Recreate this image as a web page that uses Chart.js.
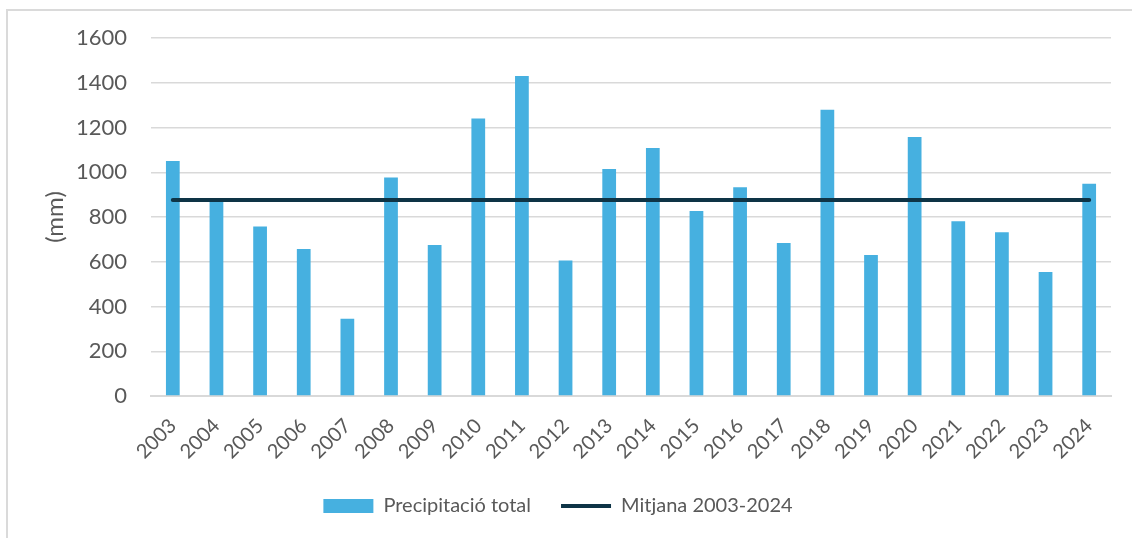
<!DOCTYPE html>
<html>
<head>
<meta charset="utf-8">
<script src="https://cdn.jsdelivr.net/npm/chart.js@4/dist/chart.umd.min.js"></script>
<style>
  html, body { margin: 0; padding: 0; background: #fff; overflow: hidden; }
  .frame {
    position: absolute; left: 6px; top: 9px; width: 1140px; height: 540px;
    border-left: 2px solid #dadada; border-top: 2px solid #dadada;
  }
  #chart { position: absolute; left: 0; top: 0; }
</style>
</head>
<body>
<div class="frame"></div>
<canvas id="chart" width="1132" height="538"></canvas>
<script>
// --- dades ---
const years = ["2003", "2004", "2005", "2006", "2007", "2008", "2009", "2010", "2011", "2012", "2013",
  "2014", "2015", "2016", "2017", "2018", "2019", "2020", "2021", "2022", "2023", "2024"];
const precipitacio = [1050, 880, 757, 657, 345, 976, 675, 1240, 1430, 606, 1014,
  1108, 827, 933, 684, 1279, 630, 1157, 781, 732, 554, 949];
const mitjana = [876, 876, 876, 876, 876, 876, 876, 876, 876, 876, 876,
  876, 876, 876, 876, 876, 876, 876, 876, 876, 876, 876];
const yTicks = [0, 200, 400, 600, 800, 1000, 1200, 1400, 1600];

const textColor = "#595959";
const gridColor = "#d9d9d9";
const font = "Lato";

new Chart(document.getElementById("chart"), {
  type: "bar",
  data: {
    labels: years,
    datasets: [
      {
        type: "line",
        label: "Mitjana 2003-2024",
        data: mitjana,
        borderColor: "#0e3446",
        backgroundColor: "#0e3446",
        borderWidth: 4,
        borderCapStyle: "round",
        pointRadius: 0,
        pointStyle: "line",
      },
      {
        type: "bar",
        label: "Precipitació total",
        data: precipitacio,
        backgroundColor: "#46b0e0",
        borderWidth: 0,
        barPercentage: 0.315,
        categoryPercentage: 1,
        pointStyle: "rect",
      },
    ],
  },
  options: {
    responsive: false,
    devicePixelRatio: 1,
    animation: false,
    layout: { padding: { left: 5, right: 21, top: 38, bottom: 12 } },
    plugins: {
      tooltip: { enabled: false },
      legend: {
        position: "bottom",
        labels: {
          // la barra primer, la mitjana després
          sort: (a, b) => b.datasetIndex - a.datasetIndex,
          usePointStyle: true,
          pointStyleWidth: 50,
          boxHeight: 14,
          padding: 30,
          color: textColor,
          font: { family: font, size: 20 },
        },
      },
    },
    scales: {
      x: {
        grid: { display: false },
        border: { display: true, color: gridColor, width: 2 },
        ticks: {
          color: textColor,
          font: { family: font, size: 20 },
          minRotation: 45,
          maxRotation: 45,
          padding: 10,
        },
        afterFit: (s) => { s.height = 70; },
      },
      y: {
        min: 0,
        max: 1600,
        afterBuildTicks: (s) => { s.ticks = yTicks.map(v => ({ value: v })); },
        grid: { color: gridColor, lineWidth: 1.5, drawTicks: false },
        border: { display: false },
        ticks: {
          color: textColor,
          font: { family: font, size: 22 },
          padding: 24,
          callback: (v) => String(v),
        },
        title: {
          display: true,
          text: "(mm)",
          color: textColor,
          font: { family: font, size: 24 },
          padding: { top: 36, bottom: 0 },
        },
        afterFit: (s) => { s.width = 146; },
      },
    },
  },
});
</script>
</body>
</html>
